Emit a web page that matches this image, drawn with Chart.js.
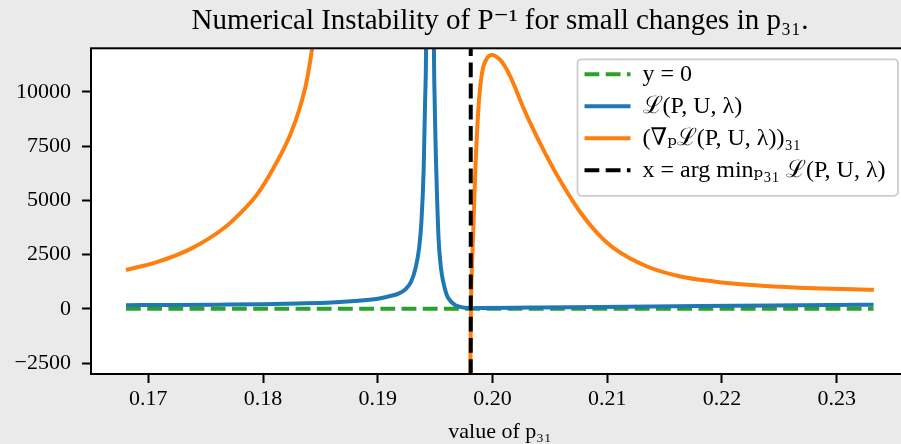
<!DOCTYPE html>
<html><head><meta charset="utf-8">
<script src="https://cdn.jsdelivr.net/npm/chart.js@4.4.0/dist/chart.umd.min.js"></script>
<style>
html,body{margin:0;padding:0;background:#eaeaea;overflow:hidden;width:901px;height:444px;}
canvas{display:block;}
</style></head><body>
<canvas id="c" width="920" height="444"></canvas>
<script>
// ---- data ----
const xTicks = [0.17, 0.18, 0.19, 0.20, 0.21, 0.22, 0.23];
const xTickLabels = ['0.17', '0.18', '0.19', '0.20', '0.21', '0.22', '0.23'];
const yTicks = [-2500, 0, 2500, 5000, 7500, 10000];
const yTickLabels = ['\u22122500', '0', '2500', '5000', '7500', '10000'];
const xLimits = [0.165, 0.2363];
const yLimits = [-3000, 12000];

const seriesLabels = ['y = 0', '\u2112(P, U, \u03bb)', '(\u2207\u209a\u2112(P, U, \u03bb))\u2083\u2081', 'x = arg min\u209a\u2083\u2081 \u2112(P, U, \u03bb)'];

const zeroX = [0.16805, 0.23321];
const zeroY = [0, 0];

const lossX = [0.16805, 0.17200, 0.17600, 0.18000, 0.18300, 0.18600, 0.18800, 0.19000, 0.19100, 0.19180, 0.19240, 0.19290, 0.19330, 0.19360, 0.19380, 0.19400, 0.19412, 0.19422, 0.19440,
               0.19472, 0.19488, 0.19496, 0.19510, 0.19530, 0.19550, 0.19570, 0.19600, 0.19640, 0.19680, 0.19720, 0.19760, 0.19810, 0.19900, 0.20329, 0.20944, 0.21816, 0.22688, 0.23321];
const lossY = [170, 180, 195, 215, 245, 290, 360, 470, 580, 700, 900, 1250, 1900, 2800, 4000, 6500, 9500, 13000, 40000,
               40000, 13000, 9500, 6300, 3200, 1900, 1250, 650, 320, 160, 90, 50, 30, 38, 60, 90, 130, 165, 190];

const gradX = [0.16805, 0.17073, 0.17364, 0.17654, 0.17800, 0.17945, 0.18090, 0.18236, 0.18323, 0.18382, 0.18425, 0.18460, 0.18600, 0.19000,
               0.19456,
               0.19600, 0.19750, 0.19790, 0.19806, 0.19812, 0.19829, 0.19849, 0.19878, 0.19908, 0.19952, 0.19995, 0.20068, 0.20110, 0.20155, 0.20200, 0.20242,
               0.20329, 0.20475, 0.20620, 0.20765, 0.20911, 0.21056, 0.21347, 0.21638, 0.21928, 0.22219, 0.22510, 0.22800, 0.23324];
const gradY = [1790, 2150, 2750, 3700, 4400, 5250, 6480, 8010, 9310, 10540, 11920, 13300, 25000, 200000,
               null,
               -200000, -12000, -5000, -2950, 110, 3180, 6250, 9310, 10850, 11540, 11690, 11460, 11150, 10700, 10150, 9600,
               8550, 7000, 5632, 4450, 3500, 2800, 1951, 1491, 1261, 1109, 1020, 950, 879];

const argminX = [0.1981, 0.1981];

// ---- helpers ----
const pts = (xs, ys) => xs.map((x, i) => ({x: x, y: ys[i]}));
const FONT = "'Liberation Serif', 'DejaVu Serif', serif";
const LW = 4;
const DASH = [14.8, 6.4];

const framePlugin = {
  id: 'framePlugin',
  afterInit(chart) {
    const lg = chart.legend;
    if (lg) {
      lg._layers = () => [{z: 5, draw: () => {
        const ctx = chart.ctx, a = chart.chartArea;
        const w = 320.5, h = 136.5;
        const r = a.right - 11, t = a.top + 11, l = r - w;
        ctx.save();
        ctx.beginPath();
        if (ctx.roundRect) ctx.roundRect(l, t, w, h, 4); else ctx.rect(l, t, w, h);
        ctx.fillStyle = 'rgba(255,255,255,0.8)';
        ctx.fill();
        ctx.lineWidth = 1.8;
        ctx.strokeStyle = '#cccccc';
        ctx.stroke();
        ctx.restore();
        lg.draw();
      }}];
    }
  },
  afterUpdate(chart) {
    const lg = chart.legend, a = chart.chartArea;
    if (!lg) return;
    const w = 320.5;
    const frameLeft = a.right - 11 - w;
    lg.left = frameLeft + 7 - 8;
    lg.right = a.right;
    lg.width = lg.right - lg.left;
    lg.top = a.top + 6;
    lg.height = 170;
    lg.bottom = lg.top + lg.height;
  },
  beforeDraw(chart) {
    const {ctx, chartArea: a} = chart;
    ctx.save();
    ctx.fillStyle = '#ffffff';
    ctx.fillRect(a.left, a.top, a.right - a.left, a.bottom - a.top);
    ctx.restore();
  },
  afterDatasetsDraw(chart) {
    const {ctx, chartArea: a} = chart;
    ctx.save();
    ctx.lineWidth = 2;
    ctx.strokeStyle = '#000';
    ctx.strokeRect(a.left, a.top, a.right - a.left, a.bottom - a.top);
    ctx.restore();
  }
};

new Chart(document.getElementById('c'), {
  type: 'line',
  data: {
    datasets: [
      {label: seriesLabels[0], data: pts(zeroX, zeroY), borderColor: '#2ca02c', borderWidth: LW, borderDash: DASH, order: 4},
      {label: seriesLabels[1], data: pts(lossX, lossY), borderColor: '#1f77b4', borderWidth: LW, order: 3, cubicInterpolationMode: 'monotone'},
      {label: seriesLabels[2], data: pts(gradX, gradY), borderColor: '#ff7f0e', borderWidth: LW, order: 2, cubicInterpolationMode: 'monotone', spanGaps: false},
      {label: seriesLabels[3], data: pts(argminX, yLimits), borderColor: '#000000', borderWidth: LW, borderDash: DASH, order: 1}
    ]
  },
  options: {
    responsive: false,
    animation: false,
    devicePixelRatio: 1,
    elements: {point: {radius: 0, hoverRadius: 0}, line: {fill: false, backgroundColor: 'transparent'}},
    layout: {padding: {left: 0, right: 11, top: 0, bottom: 0}},
    events: [],
    scales: {
      x: {
        type: 'linear',
        min: xLimits[0], max: xLimits[1],
        afterBuildTicks: s => { s.ticks = xTicks.map(v => ({value: v})); },
        afterFit: s => { s.height = 70; },
        border: {display: false},
        grid: {display: true, drawOnChartArea: false, drawTicks: true, tickLength: 9, tickWidth: 2, tickColor: '#000'},
        ticks: {
          autoSkip: false, maxRotation: 0, padding: 3, color: '#000',
          font: {family: FONT, size: 22},
          callback: (v) => { const i = xTicks.findIndex(t => Math.abs(t - v) < 1e-9); return i >= 0 ? xTickLabels[i] : ''; }
        },
        title: {display: true, text: 'value of p\u2083\u2081', color: '#000', font: {family: FONT, size: 22, lineHeight: 1}, padding: {top: 0, bottom: 1}}
      },
      y: {
        type: 'linear',
        min: yLimits[0], max: yLimits[1],
        afterBuildTicks: s => { s.ticks = yTicks.map(v => ({value: v})); },
        afterFit: s => { s.width = 91; },
        border: {display: false},
        grid: {display: true, drawOnChartArea: false, drawTicks: true, tickLength: 9, tickWidth: 2, tickColor: '#000'},
        ticks: {
          autoSkip: false, padding: 11, color: '#000',
          font: {family: FONT, size: 22},
          callback: (v) => { const i = yTicks.indexOf(v); return i >= 0 ? yTickLabels[i] : ''; }
        }
      }
    },
    plugins: {
      tooltip: {enabled: false},
      title: {
        display: true, fullSize: false,
        text: 'Numerical Instability of P\u207b\u00b9 for small changes in p\u2083\u2081.',
        color: '#000',
        font: {family: FONT, size: 29, weight: 'normal', lineHeight: 1.2},
        padding: {top: 4.3, bottom: 9.2}
      },
      legend: {
        display: true,
        position: 'chartArea',
        align: 'start',
        labels: {
          usePointStyle: true, pointStyle: 'line', pointStyleWidth: 46,
          padding: 8, color: '#000',
          font: {family: FONT, size: 24},
          sort: (a, b) => a.datasetIndex - b.datasetIndex,
          generateLabels: (chart) => Chart.defaults.plugins.legend.labels.generateLabels(chart).map(it => {
            const ds = chart.data.datasets[it.datasetIndex];
            it.lineWidth = ds.borderWidth;
            it.lineDash = ds.borderDash || [];
            it.strokeStyle = ds.borderColor;
            it.fillStyle = ds.borderColor;
            return it;
          })
        }
      }
    }
  },
  plugins: [framePlugin]
});
</script>
</body></html>
